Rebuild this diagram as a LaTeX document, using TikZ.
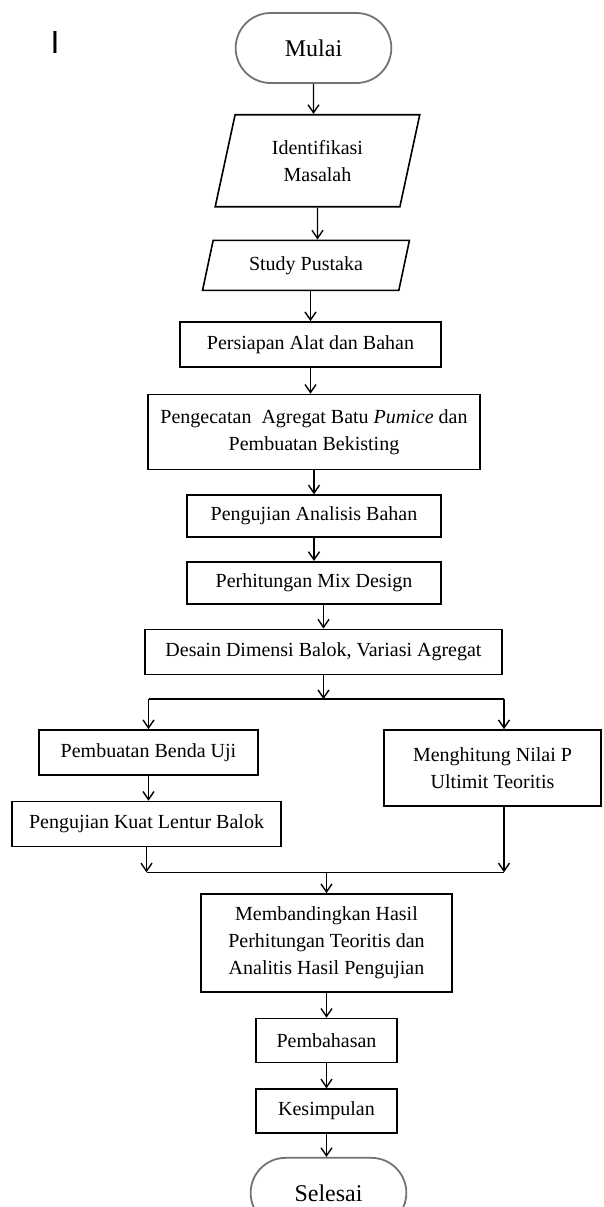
\documentclass[tikz,border=0pt]{standalone}
\usepackage{fontspec}
\setmainfont{Liberation Serif}
\newfontfamily\labelsans{Liberation Sans}
\usepackage{tikz}
\usetikzlibrary{positioning,shapes,arrows.meta}

\begin{document}
\begin{tikzpicture}[>={Straight Barb[length=4pt,width=5.5pt]}, node distance=12.5pt]
    \tikzstyle{term} = [rounded rectangle, draw=black!55, line width=0.9pt, minimum width=84.5pt, minimum height=35pt, font=\fontsize{12pt}{14pt}\selectfont]
    \tikzstyle{io} = [trapezium, trapezium left angle=77, trapezium right angle=103, trapezium stretches=true, draw, line width=0.8pt, align=center, font=\fontsize{10pt}{13.5pt}\selectfont]
    \tikzstyle{proc} = [rectangle, draw, line width=0.8pt, align=center, inner sep=2pt, font=\fontsize{10pt}{13.5pt}\selectfont]
    \tikzstyle{flow} = [->, line width=0.7pt]

    \useasboundingbox (0,0) rectangle (302pt,-603.5pt);

    % stray letter
    \node[font=\labelsans\fontsize{16pt}{16pt}\selectfont] (mark) at (27.5pt,-21pt) {I};

    % main column
    \node[term] (mulai) at (156.75pt,-24pt) {Mulai};
    \node[io, minimum width=102.5pt, minimum height=46pt, below=15pt of mulai, xshift=2pt] (ident) {Identifikasi\\Masalah};
    \node[io, minimum width=103.5pt, minimum height=25pt, below=16pt of ident, xshift=-5.75pt] (study) {Study Pustaka};
    \node[proc, minimum width=130.5pt, minimum height=22.5pt, below=15pt of study, xshift=2.25pt] (siap) {Persiapan Alat dan Bahan};
    \node[proc, minimum width=166pt, minimum height=37.5pt, below=13pt of siap, xshift=1.75pt] (cat) {Pengecatan\ \ Agregat Batu \textit{Pumice} dan\\Pembuatan Bekisting};
    \node[proc, minimum width=127pt, minimum height=21pt, below=12pt of cat] (analisis) {Pengujian Analisis Bahan};
    \node[proc, minimum width=127pt, minimum height=21pt, below=11.5pt of analisis] (mix) {Perhitungan Mix Design};
    \node[proc, minimum width=178.5pt, minimum height=22.5pt, below=12pt of mix, xshift=4.75pt] (desain) {Desain Dimensi Balok, Variasi Agregat};

    % two branches
    \node[proc, minimum width=109.5pt, minimum height=22.5pt, below=27pt of desain, xshift=-87.5pt] (buat) {Pembuatan Benda Uji};
    \node[proc, minimum width=134.5pt, minimum height=22.5pt, below=of buat, xshift=-1pt] (lentur) {Pengujian Kuat Lentur Balok};
    \node[proc, minimum width=108.5pt, minimum height=38pt, below=27pt of desain, xshift=84.5pt] (hitung) {Menghitung Nilai P\\Ultimit Teoritis};

    % lower column
    \node[proc, minimum width=125.5pt, minimum height=49pt, below=109pt of desain, xshift=1.5pt] (banding) {Membandingkan Hasil\\Perhitungan Teoritis dan\\Analitis Hasil Pengujian};
    \node[proc, minimum width=70.5pt, minimum height=22pt, below=of banding] (bahas) {Pembahasan};
    \node[proc, minimum width=70.5pt, minimum height=22pt, below=of bahas] (simpul) {Kesimpulan};
    \node[term, below=11.5pt of simpul, xshift=1pt] (selesai) {Selesai};

    % split and join points
    \coordinate[below=12pt of desain] (split);
    \coordinate[xshift=5.75pt] (hr) at (hitung.north);
    \coordinate[xshift=5.75pt] (hb) at (hitung.south);
    \coordinate[below=12.5pt of lentur] (join);

    % arrows
    \draw[flow] (mulai) -- (mulai |- ident.north);
    \draw[flow] (ident) -- (ident |- study.north);
    \draw[flow] (siap |- study.south) -- (siap);
    \draw[flow] (siap) -- (siap |- cat.north);
    \draw[flow] (cat) -- (cat |- analisis.north);
    \draw[flow] (analisis) -- (mix);
    \draw[flow] (mix.south -| desain) -- (desain);
    \draw[flow] (desain) -- (split);
    \draw[line width=0.7pt] (buat |- split) -- (hr |- split);
    \draw[flow] (buat |- split) -- (buat);
    \draw[flow] (hr |- split) -- (hr);
    \draw[flow] (buat) -- (buat |- lentur.north);
    \draw[flow] (lentur) -- (lentur |- join);
    \draw[flow] (hb) -- (hb |- join);
    \draw[line width=0.7pt] (lentur |- join) -- (hb |- join);
    \draw[flow] (banding |- join) -- (banding);
    \draw[flow] (banding) -- (bahas);
    \draw[flow] (bahas) -- (simpul);
    \draw[flow] (simpul) -- (simpul |- selesai.north);
\end{tikzpicture}
\end{document}
